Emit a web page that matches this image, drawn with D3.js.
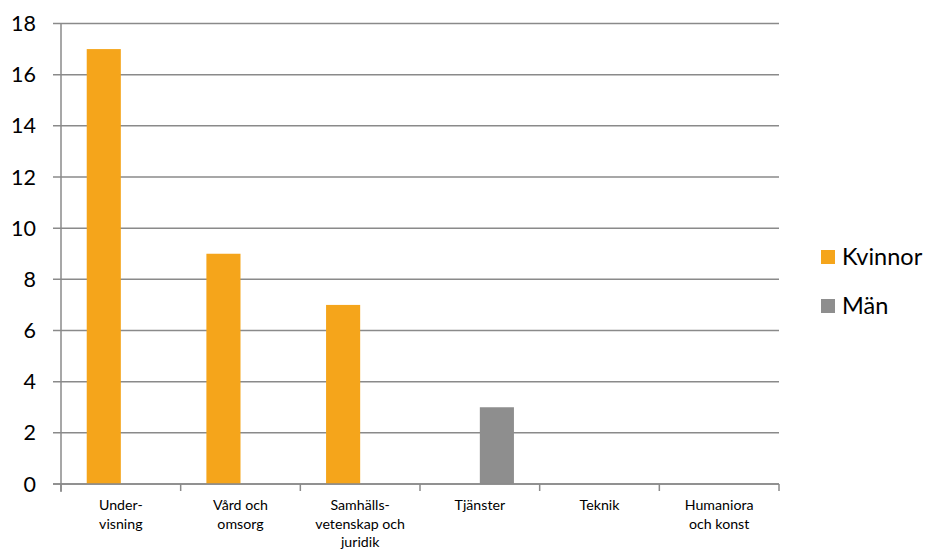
<!DOCTYPE html>
<html><head><meta charset="utf-8">
<script src="https://cdn.jsdelivr.net/npm/d3@7"></script>
<style>body{margin:0;background:#fff}svg{display:block}text{font-family:Lato,"Open Sans",sans-serif;fill:#000}</style>
</head><body><svg id="c" width="927" height="551"></svg>
<script>
const categories = [["Under-","visning"],["Vård och","omsorg"],["Samhälls-","vetenskap och","juridik"],["Tjänster"],["Teknik"],["Humaniora","och konst"]];
const seriesNames = ["Kvinnor","Män"];
const kvinnor = [17,9,7,0,0,0];
const man = [0,0,0,3,0,0];
const yTicks = [0,2,4,6,8,10,12,14,16,18];
const colors = ["#F5A51B","#8E8E8E"];

(function(){
const svg = d3.select("#c");
const mLeft=61,mRight=779,mTop=23.5,mBottom=484;
const keys = categories.map((c,i)=>i);
const x0 = d3.scaleBand().domain(keys).range([mLeft,mRight]).padding(0);
const bw = x0.bandwidth();
const x1 = d3.scaleBand().domain(seriesNames).range([bw*0.215,bw*0.785]).padding(0);
const y = d3.scaleLinear().domain([0,18]).range([mBottom,mTop]);

svg.append("g").selectAll("line").data(yTicks).join("line")
  .attr("x1",53).attr("x2",mRight).attr("y1",d=>y(d)).attr("y2",d=>y(d))
  .attr("stroke","#8a8a8a").attr("stroke-width",1.5);
svg.append("line").attr("x1",mLeft).attr("x2",mLeft).attr("y1",mTop).attr("y2",mBottom+8)
  .attr("stroke","#8a8a8a").attr("stroke-width",1.5);
const bounds = keys.map(k=>x0(k)).concat([mRight]);
svg.append("g").selectAll("line").data(bounds).join("line")
  .attr("x1",d=>d).attr("x2",d=>d).attr("y1",mBottom).attr("y2",mBottom+7)
  .attr("stroke","#8a8a8a").attr("stroke-width",1.5);

const data = [kvinnor, man];
seriesNames.forEach((s,si)=>{
  svg.append("g").selectAll("rect").data(data[si]).join("rect")
    .attr("x",(d,i)=>x0(i)+x1(s)).attr("width",x1.bandwidth())
    .attr("y",d=>y(d)).attr("height",d=>mBottom-y(d))
    .attr("fill",colors[si]);
});
svg.append("line").attr("x1",53).attr("x2",mRight).attr("y1",mBottom).attr("y2",mBottom)
  .attr("stroke","#8a8a8a").attr("stroke-width",1.5);

svg.append("g").selectAll("text").data(yTicks).join("text")
  .attr("x",36).attr("y",d=>y(d)+7.5).attr("text-anchor","end")
  .attr("font-size",21.5).text(d=>d);

categories.forEach((lines,i)=>{
  const t = svg.append("text").attr("text-anchor","middle").attr("font-size",14.2);
  lines.forEach((ln,j)=>{
    t.append("tspan").attr("x",x0(i)+bw/2).attr("y",510+j*18.5).text(ln);
  });
});

seriesNames.forEach((s,i)=>{
  const yy = 250+i*49;
  svg.append("rect").attr("x",821).attr("y",yy).attr("width",14).attr("height",14).attr("fill",colors[i]);
  svg.append("text").attr("x",842).attr("y",yy+14.5).attr("font-size",23.5).text(s);
});
})();
</script></body></html>
